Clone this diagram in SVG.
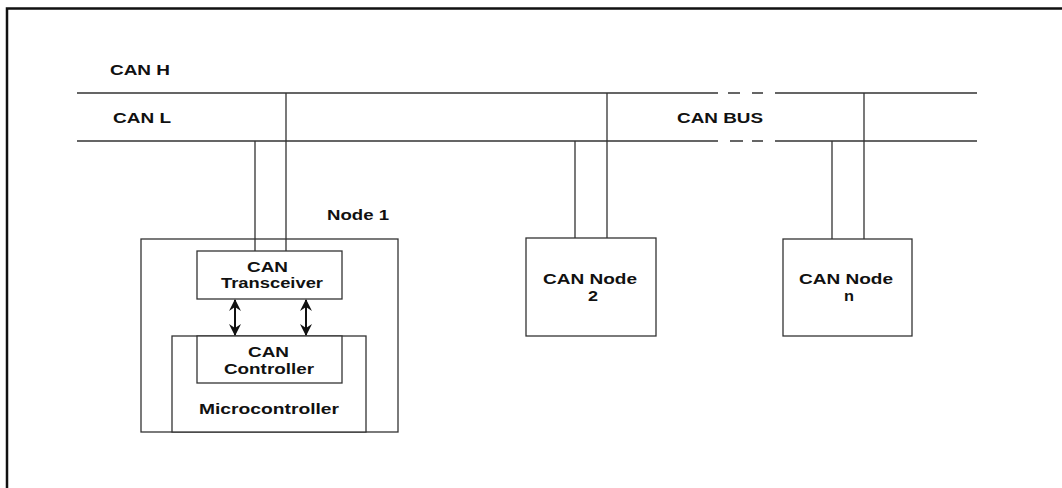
<svg xmlns="http://www.w3.org/2000/svg" width="1062" height="488" viewBox="0 0 1062 488">
<style>
.ln{stroke:#333;stroke-width:1.3;fill:none}
.ar{stroke:#111;stroke-width:2;fill:none}
.bx{stroke:#333;stroke-width:1.3;fill:#fff}
.t{font-family:"Liberation Sans",Arial,sans-serif;font-weight:bold;font-size:14.5px;fill:#111}
</style>
<defs>
<marker id="ah" viewBox="0 0 12 12" refX="11" refY="6" markerWidth="12" markerHeight="12" markerUnits="userSpaceOnUse" orient="auto-start-reverse">
<path d="M0,0 L12,6 L0,12 L4,6 Z" fill="#111"/>
</marker>
</defs>
<rect width="1062" height="488" fill="#fff"/>
<path d="M7,488 V8.5 H1062" stroke="#111" stroke-width="2.5" fill="none"/>
<g id="labels">
<text class="t" x="110" y="75" textLength="60" lengthAdjust="spacingAndGlyphs">CAN H</text>
<text class="t" x="113" y="122.5" textLength="58" lengthAdjust="spacingAndGlyphs">CAN L</text>
<text class="t" x="677" y="122.5" textLength="86" lengthAdjust="spacingAndGlyphs">CAN BUS</text>
</g>
<g id="node1">
<rect class="bx" x="141" y="239" width="257" height="193"/>
<text class="t" x="327" y="220" textLength="62" lengthAdjust="spacingAndGlyphs">Node 1</text>
</g>
<g id="microcontroller">
<rect class="bx" x="172" y="336" width="194" height="96"/>
<text class="t" x="199" y="414" textLength="140" lengthAdjust="spacingAndGlyphs">Microcontroller</text>
</g>
<g id="transceiver">
<rect class="bx" x="197" y="251" width="145" height="48"/>
<text class="t" x="247" y="271.5" textLength="41" lengthAdjust="spacingAndGlyphs">CAN</text>
<text class="t" x="221" y="288" textLength="102" lengthAdjust="spacingAndGlyphs">Transceiver</text>
</g>
<g id="controller">
<rect class="bx" x="197" y="336" width="145" height="47"/>
<text class="t" x="248" y="356.5" textLength="41" lengthAdjust="spacingAndGlyphs">CAN</text>
<text class="t" x="224" y="373.5" textLength="90" lengthAdjust="spacingAndGlyphs">Controller</text>
</g>
<g id="node2">
<rect class="bx" x="526" y="238" width="130" height="98"/>
<text class="t" x="543" y="284" textLength="94" lengthAdjust="spacingAndGlyphs">CAN Node</text>
<text class="t" x="588" y="301" textLength="10" lengthAdjust="spacingAndGlyphs">2</text>
</g>
<g id="noden">
<rect class="bx" x="783" y="239" width="129" height="97"/>
<text class="t" x="799" y="284" textLength="94" lengthAdjust="spacingAndGlyphs">CAN Node</text>
<text class="t" x="844" y="301" textLength="10" lengthAdjust="spacingAndGlyphs">n</text>
</g>
<g id="connectors">
<path class="ln" d="M77,93 H718 M728,93 H740 M752,93 H763 M775,93 H977"/>
<path class="ln" d="M77,141 H718 M730,141 H743 M752,141 H763 M775,141 H977"/>
<path class="ln" d="M255,141 V251 M286,93 V251"/>
<path class="ln" d="M575,141 V238 M607,93 V238"/>
<path class="ln" d="M832,141 V239 M864,93 V239"/>
<line class="ar" x1="235" y1="300" x2="235" y2="335" marker-start="url(#ah)" marker-end="url(#ah)"/>
<line class="ar" x1="306" y1="300" x2="306" y2="335" marker-start="url(#ah)" marker-end="url(#ah)"/>
</g>
</svg>
